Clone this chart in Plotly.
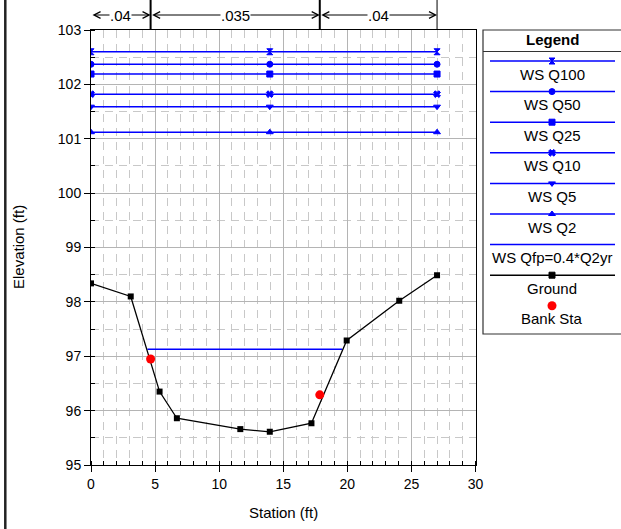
import plotly.graph_objects as go

W, H = 621, 529

# ---------------- data ----------------
ground_sta = [0, 3.1, 5.35, 6.7, 11.65, 13.95, 17.2, 19.95, 24.05, 27]
ground_elev = [98.34, 98.10, 96.35, 95.86, 95.66, 95.61, 95.77, 97.29, 98.02, 98.49]
bank_sta = [4.65, 17.85]
bank_elev = [96.95, 96.29]
ws_sta = [0, 13.95, 27]
ws_names = ["WS Q100", "WS Q50", "WS Q25", "WS Q10", "WS Q5", "WS Q2"]
ws_elev = [102.60, 102.37, 102.19, 101.82, 101.59, 101.12]
ws_symbols = ["hourglass", "circle", "square", "x", "triangle-down", "triangle-up"]
qfp_name = "WS Qfp=0.4*Q2yr"
qfp_sta = [4.4, 19.6]
qfp_elev = [97.13, 97.13]
n_values = [".04", ".035", ".04"]
n_breaks = [0, 4.65, 17.85, 27]
x_range = [0, 30]
y_range = [95, 103]

FONT = "Liberation Sans, Arial, sans-serif"
BLUE = "#0000ff"

# plot area in pixels
PL, PR, PT, PB = 91, 475.5, 30, 465


def px(x):
    return x / W


def py(y):
    return 1 - y / H


def txt(x, y, text, size=15, **kw):
    d = dict(x=px(x), y=py(y), xref="paper", yref="paper", text=text, showarrow=False,
             xanchor="center", yanchor="middle",
             font=dict(size=size, color="black", family=FONT))
    d.update(kw)
    return d


fig = go.Figure()

# water surfaces
for name, elev, sym in zip(ws_names, ws_elev, ws_symbols):
    fig.add_trace(go.Scatter(
        x=ws_sta, y=[elev] * len(ws_sta), name=name, mode="lines+markers",
        line=dict(color=BLUE, width=1.5),
        marker=dict(symbol=sym, size=6, color=BLUE, line=dict(width=1, color=BLUE)),
        xaxis="x", yaxis="y", showlegend=False))

fig.add_trace(go.Scatter(x=qfp_sta, y=qfp_elev, name=qfp_name, mode="lines",
                         line=dict(color=BLUE, width=1.5), showlegend=False))

fig.add_trace(go.Scatter(x=ground_sta, y=ground_elev, name="Ground", mode="lines+markers",
                         line=dict(color="black", width=1.3),
                         marker=dict(symbol="square", size=6, color="black"),
                         showlegend=False))

fig.add_trace(go.Scatter(x=bank_sta, y=bank_elev, name="Bank Sta", mode="markers",
                         marker=dict(symbol="circle", size=9, color="#ff0000"),
                         showlegend=False))

# ---------------- custom legend (pixel coordinates on hidden axes) ----------------
legend_entries = [(n, s, BLUE) for n, s in zip(ws_names, ws_symbols)] + \
                 [(qfp_name, None, BLUE), ("Ground", "square", "black")]
annotations = []
shapes = []
LX0, LX1, LXC = 490, 615, 552
LY0, LSTEP = 61, 30.6
for i, (name, sym, col) in enumerate(legend_entries):
    ly = LY0 + LSTEP * i
    fig.add_trace(go.Scatter(x=[LX0, LX1], y=[ly, ly], mode="lines",
                             line=dict(color=col, width=1.5), xaxis="x2", yaxis="y2",
                             showlegend=False, hoverinfo="skip"))
    if sym:
        fig.add_trace(go.Scatter(x=[LXC], y=[ly], mode="markers",
                                 marker=dict(symbol=sym, size=6, color=col, line=dict(width=1, color=col)),
                                 xaxis="x2", yaxis="y2", showlegend=False, hoverinfo="skip"))
    annotations.append(txt(LXC, ly + 13, name))
# bank sta entry
ly = LY0 + LSTEP * len(legend_entries)
fig.add_trace(go.Scatter(x=[LXC], y=[ly], mode="markers",
                         marker=dict(symbol="circle", size=9, color="#ff0000"),
                         xaxis="x2", yaxis="y2", showlegend=False, hoverinfo="skip"))
annotations.append(txt(LXC, ly + 13, "Bank Sta"))
annotations.append(txt(LXC, 39.5, "<b>Legend</b>"))
shapes.append(dict(type="rect", xref="paper", yref="paper", x0=px(483), x1=px(626),
                   y0=py(30), y1=py(334), line=dict(color="#333333", width=1.2)))
shapes.append(dict(type="line", xref="paper", yref="paper", x0=px(483), x1=px(626),
                   y0=py(51.5), y1=py(51.5), line=dict(color="#333333", width=1)))

# outer left frame
shapes.append(dict(type="line", xref="paper", yref="paper", x0=px(5.3), x1=px(5.3),
                   y0=0, y1=1, line=dict(color="#222222", width=2.5)))

# Manning's n header
YA = py(15)
ytop = py(PT)
for i, val in enumerate(n_values):
    a, b = n_breaks[i], n_breaks[i + 1]
    annotations.append(dict(x=b, y=YA, xref="x", yref="paper", ax=a, ay=0, axref="x", ayref="pixel",
                            text="", showarrow=True, arrowhead=5, startarrowhead=5,
                            arrowside="end+start", arrowsize=1.3, startarrowsize=1.3,
                            arrowwidth=1, arrowcolor="black", standoff=0, startstandoff=0))
for i, val in enumerate(n_values):
    a, b = n_breaks[i], n_breaks[i + 1]
    annotations.append(dict(x=(a + b) / 2, y=YA, xref="x", yref="paper", text=val,
                            showarrow=False, bgcolor="white", borderpad=0,
                            xanchor="center", yanchor="middle",
                            font=dict(size=15, color="black", family=FONT)))
for i, xb in enumerate(n_breaks[1:]):
    shapes.append(dict(type="line", xref="x", yref="paper", x0=xb, x1=xb, y0=ytop, y1=1.0,
                       line=dict(color="black", width=2 if i < 2 else 1)))

# axis titles
annotations.append(txt(283, 512, "Station (ft)", size=15))
annotations.append(txt(18, 247, "Elevation (ft)", size=15, textangle=-90))

axis_common = dict(showline=True, linecolor="black", linewidth=1, mirror=True,
                   ticks="outside", ticklen=6, tickcolor="black", tickwidth=1,
                   showgrid=True, gridcolor="#b4b4b4", gridwidth=1, zeroline=False,
                   tickfont=dict(size=14, color="black", family=FONT), fixedrange=True)

fig.update_layout(
    width=W, height=H, margin=dict(l=0, r=0, t=0, b=0, autoexpand=False),
    paper_bgcolor="white", plot_bgcolor="rgba(0,0,0,0)",
    showlegend=False,
    xaxis=dict(domain=[PL / W, PR / W], range=x_range, dtick=5, tick0=0, anchor="y",
               minor=dict(dtick=1, tick0=0, ticks="inside", ticklen=4, tickcolor="black",
                          showgrid=True, gridcolor="#c8c8c8", griddash="8px,6px", gridwidth=1),
               **axis_common),
    yaxis=dict(domain=[1 - PB / H, 1 - PT / H], range=y_range, dtick=1, tick0=95, anchor="x",
               minor=dict(dtick=0.5, tick0=95, ticks="inside", ticklen=4, tickcolor="black",
                          showgrid=True, gridcolor="#c8c8c8", griddash="8px,6px", gridwidth=1),
               **axis_common),
    xaxis2=dict(domain=[0, 1], range=[0, W], visible=False, anchor="y2", fixedrange=True),
    yaxis2=dict(domain=[0, 1], range=[H, 0], visible=False, anchor="x2", fixedrange=True),
    annotations=annotations, shapes=shapes,
    font=dict(family=FONT, color="black"),
)

fig.write_html("out.html", config={"displayModeBar": False},
               post_script="document.body.style.margin='0px';")
